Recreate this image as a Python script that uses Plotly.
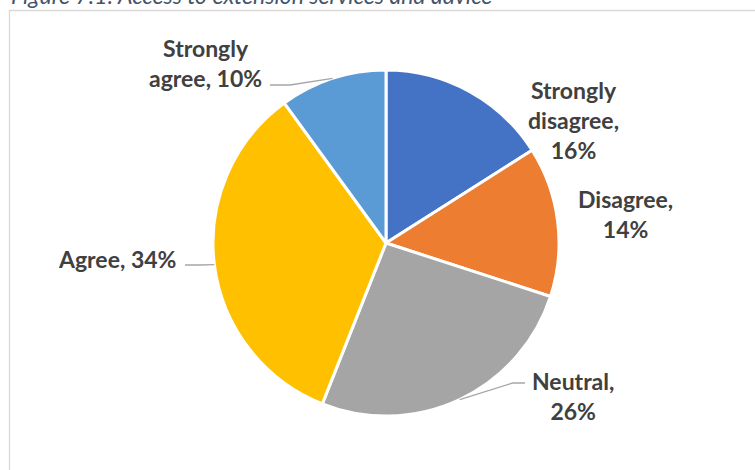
import math
import plotly.graph_objects as go

# Survey responses: access to extension services and advice
categories = ["Strongly disagree", "Disagree", "Neutral", "Agree", "Strongly agree"]
shares = [16, 14, 26, 34, 10]
colors = ["#4472C4", "#ED7D31", "#A5A5A5", "#FFC000", "#5B9BD5"]
# How each category name wraps in its label
label_names = ["Strongly<br>disagree,", "Disagree,", "Neutral,", "Agree,", "Strongly<br>agree,"]
title_text = "Figure 7.1: Access to extension services and advice"

W, H = 755, 470
CX, CY, R = 386, 243, 173  # pie centre and radius in pixels

# label block centres (px) and whether the percentage goes on a new line
label_pos = [(573, 120), (625, 214), (573, 396), (117, 259), (205, 63)]
label_break = [True, True, True, False, False]
# leader-line start points next to the labels (px); None = no leader
leader_start = [None, None, [(525, 383), (513, 383)], [(185, 265), (200, 265)], [(270, 85), (290, 85)]]


def px(x, y):
    return x / W, 1 - y / H


fig = go.Figure(
    go.Pie(
        labels=categories,
        values=shares,
        sort=False,
        direction="clockwise",
        rotation=0,
        marker=dict(colors=colors, line=dict(color="white", width=3)),
        textinfo="none",
        hoverinfo="label+percent",
        showlegend=False,
        domain=dict(x=[(CX - R) / W, (CX + R) / W], y=[1 - (CY + R) / H, 1 - (CY - R) / H]),
    )
)

font = dict(family="Lato", size=23, color="#404040")
annotations = []
shapes = []
total = sum(shares)
cum = 0
for i, (name, val) in enumerate(zip(label_names, shares)):
    mid = (cum + val / 2) / total * 2 * math.pi
    cum += val
    sep = "<br>" if label_break[i] else " "
    x, y = px(*label_pos[i])
    annotations.append(dict(text=f"<b>{name}{sep}{val}%</b>", x=x, y=y, xref="paper", yref="paper",
                            xanchor="center", yanchor="middle", showarrow=False, font=font,
                            align="center"))
    if leader_start[i]:
        ex = CX + R * math.sin(mid)
        ey = CY - R * math.cos(mid)
        pts = leader_start[i] + [(ex, ey)]
        path = "M " + " L ".join(f"{px(a, b)[0]:.5f},{px(a, b)[1]:.5f}" for a, b in pts)
        shapes.append(dict(type="path", path=path, xref="paper", yref="paper",
                           line=dict(color="#A6A6A6", width=1.3)))

# chart frame
shapes.append(dict(type="rect", xref="paper", yref="paper", x0=9.5 / W, x1=1.02,
                   y0=-0.02, y1=1 - 10.5 / H, line=dict(color="#D9D9D9", width=1.3),
                   layer="below"))

annotations.append(dict(text=f"<i>{title_text}</i>", x=9 / W, y=1 + 4.7 / H, xref="paper", yref="paper",
                        xanchor="left", yanchor="middle", showarrow=False,
                        font=dict(family="Lato", size=23, color="#44546A")))

fig.update_layout(
    width=W, height=H,
    margin=dict(l=0, r=0, t=0, b=0),
    paper_bgcolor="white", plot_bgcolor="white",
    annotations=annotations, shapes=shapes,
)
fig.write_html("out.html")
